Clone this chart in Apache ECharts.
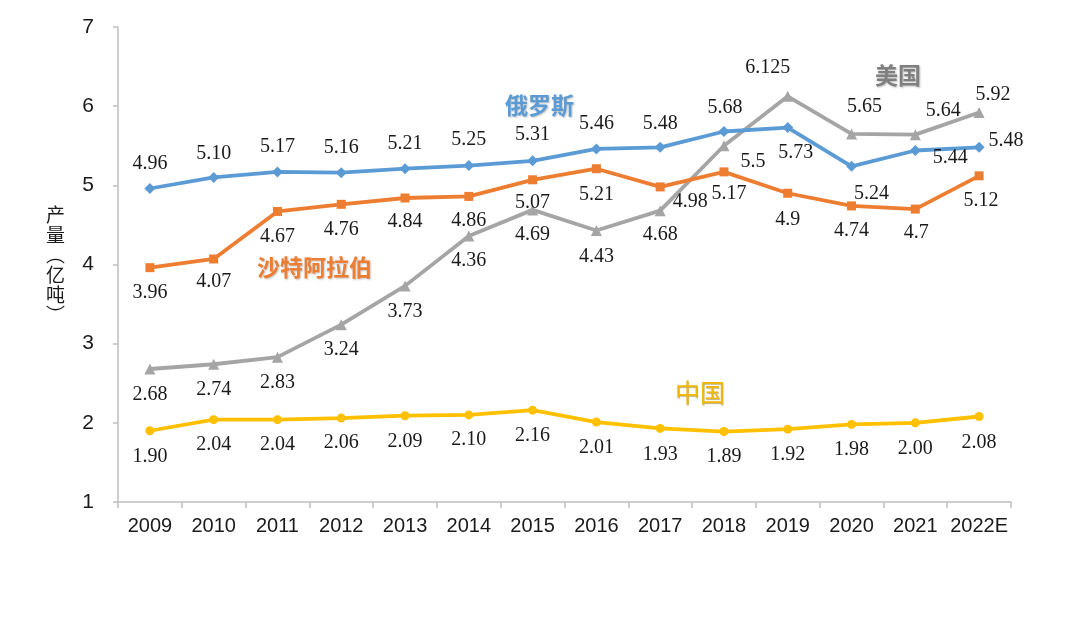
<!DOCTYPE html>
<html>
<head>
<meta charset="utf-8">
<script src="https://cdn.jsdelivr.net/npm/echarts@6/dist/echarts.min.js"></script>
<style>html,body{margin:0;padding:0;background:#fff}#c{width:1080px;height:630px}</style>
</head>
<body>
<div id="c"></div>
<script>
var years = ['2009','2010','2011','2012','2013','2014','2015','2016','2017','2018','2019','2020','2021','2022E'];
var russia = [4.96,5.10,5.17,5.16,5.21,5.25,5.31,5.46,5.48,5.68,5.73,5.24,5.44,5.48];
var saudi  = [3.96,4.07,4.67,4.76,4.84,4.86,5.07,5.21,4.98,5.17,4.9,4.74,4.7,5.12];
var usa    = [2.68,2.74,2.83,3.24,3.73,4.36,4.69,4.43,4.68,5.5,6.125,5.65,5.64,5.92];
var china  = [1.90,2.04,2.04,2.06,2.09,2.10,2.16,2.01,1.93,1.89,1.92,1.98,2.00,2.08];
var russiaText = ['4.96','5.10','5.17','5.16','5.21','5.25','5.31','5.46','5.48','5.68','5.73','5.24','5.44','5.48'];
var saudiText  = ['3.96','4.07','4.67','4.76','4.84','4.86','5.07','5.21','4.98','5.17','4.9','4.74','4.7','5.12'];
var usaText    = ['2.68','2.74','2.83','3.24','3.73','4.36','4.69','4.43','4.68','5.5','6.125','5.65','5.64','5.92'];
var chinaText  = ['1.90','2.04','2.04','2.06','2.09','2.10','2.16','2.01','1.93','1.89','1.92','1.98','2.00','2.08'];

// label placement (pixel offsets from each point)
var russiaOff = [[0,-25],[0,-24],[0,-25],[0,-25],[0,-25],[0,-26],[0,-26],[0,-25],[0,-24],[1,-24],[8,25],[20,27],[35,7],[27,-7]];
var saudiOff  = [[0,25],[0,23],[0,25],[0,25],[0,24],[0,24],[0,23],[0,26],[30,15],[5,22],[0,26],[0,25],[1,24],[2,25]];
var usaOff    = [[0,26],[0,25],[0,26],[0,25],[0,26],[0,25],[0,25],[0,26],[0,24],[29,16],[-20,-29],[13,-27],[28,-24],[14,-18]];
var chinaOff  = [[0,26],[0,25],[0,25],[0,25],[0,26],[0,25],[0,26],[0,26],[0,26],[0,25],[0,26],[0,25],[0,26],[0,26]];

function build(vals, texts, offs){
  return vals.map(function(v,i){
    return {value:v, label:{offset:offs[i], formatter:texts[i]}};
  });
}

var labelBase = {show:true, position:'inside', color:'#1a1a1a', fontFamily:'Liberation Serif', fontSize:20};

function mkSeries(name, vals, texts, offs, color, symbol, size){
  return {
    name:name, type:'line', data:build(vals,texts,offs),
    symbol:symbol, symbolSize:size,
    lineStyle:{color:color,width:3.8},
    itemStyle:{color:color},
    label:labelBase,
    z:2
  };
}

var chart = echarts.init(document.getElementById('c'));
var nameStyle = {fontFamily:'Noto Sans CJK SC', fontWeight:'bold', fontSize:23,
  textShadowColor:'rgba(0,0,0,0.25)', textShadowBlur:2, textShadowOffsetX:1, textShadowOffsetY:1};
chart.setOption({
  animation:false,
  backgroundColor:'#fff',
  grid:{left:118, right:69, top:27, bottom:128},
  xAxis:{
    type:'category', data:years, boundaryGap:true,
    axisLine:{lineStyle:{color:'#BFBFBF',width:1.5}},
    axisTick:{show:true, alignWithLabel:false, length:6, lineStyle:{color:'#BFBFBF',width:1.5}},
    axisLabel:{color:'#1a1a1a', fontFamily:'Liberation Sans', fontSize:20, margin:14, interval:0}
  },
  yAxis:{
    type:'value', min:1, max:7, interval:1,
    name:'产\n量\n︵\n亿\n吨\n︶', nameLocation:'middle', nameGap:53, nameRotate:0,
    nameTextStyle:{fontFamily:'Noto Sans CJK SC', fontSize:19, lineHeight:20, color:'#1a1a1a'},
    axisLine:{show:true, lineStyle:{color:'#BFBFBF',width:1.5}},
    axisTick:{show:true, length:5, lineStyle:{color:'#BFBFBF',width:1.5}},
    splitLine:{show:false},
    axisLabel:{color:'#1a1a1a', fontFamily:'Liberation Sans', fontSize:21, margin:24}
  },
  series:[
    mkSeries('中国', china, chinaText, chinaOff, '#FFC000', 'circle', 9),
    mkSeries('美国', usa, usaText, usaOff, '#A5A5A5', 'triangle', 11),
    mkSeries('沙特阿拉伯', saudi, saudiText, saudiOff, '#ED7D31', 'rect', 9),
    mkSeries('俄罗斯', russia, russiaText, russiaOff, '#5B9BD5', 'diamond', 11)
  ],
  graphic:[
    {type:'text', left:505, top:94, style:Object.assign({text:'俄罗斯', fill:'#5B9BD5'}, nameStyle)},
    {type:'text', left:875, top:64, style:Object.assign({text:'美国', fill:'#7F7F7F'}, nameStyle)},
    {type:'text', left:257, top:256, style:Object.assign({text:'沙特阿拉伯', fill:'#ED7D31'}, nameStyle)},
    {type:'text', left:675, top:380, style:Object.assign({text:'中国', fill:'#F2B800'}, nameStyle, {fontWeight:'normal', fontSize:25, textShadowColor:'rgba(120,90,0,0.5)', textShadowBlur:1, textShadowOffsetX:0.5, textShadowOffsetY:0.5})}
  ]
});
</script>
</body>
</html>
